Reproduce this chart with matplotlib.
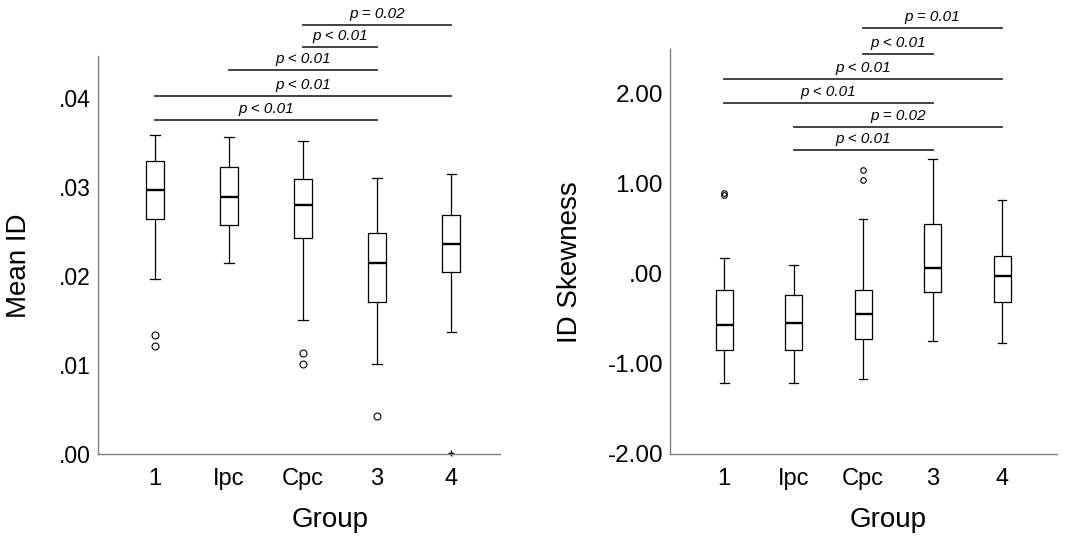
import matplotlib
matplotlib.use('Agg')
import matplotlib.pyplot as plt

plt.rcParams['font.family'] = ['Liberation Sans', 'DejaVu Sans']

groups = ['1', 'Ipc', 'Cpc', '3', '4']

# Mean ID panel
mean_whislo = [0.0197, 0.0215, 0.0151, 0.0101, 0.0137]
mean_q1 = [0.0264, 0.0257, 0.0243, 0.0171, 0.0204]
mean_med = [0.0297, 0.0289, 0.0280, 0.0215, 0.0236]
mean_q3 = [0.0329, 0.0323, 0.0309, 0.0248, 0.0268]
mean_whishi = [0.0358, 0.0356, 0.0352, 0.0310, 0.0315]
mean_outliers = [[0.0134, 0.0121], [], [0.0113, 0.0101], [0.0043], []]
mean_extremes = [[], [], [], [], [0.0001]]
mean_pairs = [(1, 4), (1, 5), (2, 4), (3, 4), (3, 5)]
mean_pair_y = [0.0375, 0.0402, 0.0431, 0.0457, 0.0482]
mean_pair_p = ['p < 0.01', 'p < 0.01', 'p < 0.01', 'p < 0.01', 'p = 0.02']
mean_ticks = [0.0, 0.01, 0.02, 0.03, 0.04]
mean_ticklabels = ['.00', '.01', '.02', '.03', '.04']

# ID Skewness panel
skew_whislo = [-1.213, -1.209, -1.169, -0.747, -0.766]
skew_q1 = [-0.850, -0.843, -0.725, -0.200, -0.311]
skew_med = [-0.569, -0.551, -0.447, 0.060, -0.022]
skew_q3 = [-0.181, -0.233, -0.181, 0.548, 0.200]
skew_whishi = [0.178, 0.097, 0.607, 1.273, 0.818]
skew_outliers = [[0.90, 0.87], [], [1.15, 1.04], [], []]
skew_pairs = [(2, 4), (2, 5), (1, 4), (1, 5), (3, 4), (3, 5)]
skew_pair_y = [1.376, 1.625, 1.895, 2.161, 2.438, 2.723]
skew_pair_p = ['p < 0.01', 'p = 0.02', 'p < 0.01', 'p < 0.01', 'p < 0.01', 'p = 0.01']
skew_ticks = [-2, -1, 0, 1, 2]
skew_ticklabels = ['-2.00', '-1.00', '.00', '1.00', '2.00']


def make_stats(lo, q1, med, q3, hi, fl):
    return [dict(whislo=a, q1=b, med=c, q3=d, whishi=e, fliers=f)
            for a, b, c, d, e, f in zip(lo, q1, med, q3, hi, fl)]


def draw_panel(ax, stats, pairs, pair_y, pair_p, ticks, ticklabels,
               ylabel, spine_top, flier_size, xlim, ylim, ytick_size,
               xlab_pos, ylab_pos):
    pos = list(range(1, len(groups) + 1))
    ax.bxp(stats, positions=pos, widths=0.245, capwidths=0.125,
           boxprops=dict(color='black', lw=0.9),
           whiskerprops=dict(color='black', lw=0.9),
           capprops=dict(color='black', lw=0.9),
           medianprops=dict(color='black', lw=1.7),
           flierprops=dict(marker='o', markerfacecolor='none',
                           markeredgecolor='black', markersize=flier_size,
                           markeredgewidth=0.8))
    for (a, b), y, p in zip(pairs, pair_y, pair_p):
        ax.plot([a, b], [y, y], color='#333333', lw=1.3, clip_on=False)
        ax.annotate(p, xy=((a + b) / 2, y), xytext=(0, 8),
                    textcoords='offset points', ha='center', va='center',
                    style='italic', fontsize=11)
    ax.set_xlim(*xlim)
    ax.set_ylim(*ylim)
    ax.set_xticks(pos)
    ax.set_xticklabels(groups, fontsize=17)
    ax.set_yticks(ticks)
    ax.set_yticklabels(ticklabels, fontsize=ytick_size)
    ax.tick_params(axis='x', length=0, pad=10)
    ax.tick_params(axis='y', length=0, pad=5)
    for s in ['top', 'right']:
        ax.spines[s].set_visible(False)
    ax.spines['left'].set_bounds(ylim[0], spine_top)
    for s in ['left', 'bottom']:
        ax.spines[s].set_color('#808080')
        ax.spines[s].set_linewidth(1.0)
    ax.set_xlabel('Group', fontsize=20)
    ax.xaxis.set_label_coords(*xlab_pos)
    ax.xaxis.label.set_va('center')
    ax.set_ylabel(ylabel, fontsize=20)
    ax.yaxis.set_label_coords(*ylab_pos)
    ax.yaxis.label.set_va('center')


fig = plt.figure(figsize=(10.84, 5.42), dpi=100)
ax1 = fig.add_axes([98 / 1084, 88 / 542, 402 / 1084, 449 / 542])
ax2 = fig.add_axes([670 / 1084, 88 / 542, 387 / 1084, 449 / 542])

mean_stats = make_stats(mean_whislo, mean_q1, mean_med, mean_q3,
                        mean_whishi, mean_outliers)
draw_panel(ax1, mean_stats, mean_pairs, mean_pair_y, mean_pair_p,
           mean_ticks, mean_ticklabels, 'Mean ID', 0.0447, 5,
           (0.23, 5.66), (0, 0.05045), 16.5, (0.577, -0.147), (-0.197, 0.42))
for i, ext in enumerate(mean_extremes):
    if ext:
        ax1.plot([i + 1] * len(ext), ext, ls='none', marker='+',
                 color='black', markersize=5, mew=1.0, clip_on=False)

skew_stats = make_stats(skew_whislo, skew_q1, skew_med, skew_q3,
                        skew_whishi, skew_outliers)
draw_panel(ax2, skew_stats, skew_pairs, skew_pair_y, skew_pair_p,
           skew_ticks, skew_ticklabels, 'ID Skewness', 2.5, 4,
           (0.22, 5.79), (-2, -2 + 449 / 90.1), 17.5, (0.563, -0.147),
           (-0.258, 0.428))

fig.savefig('out.png', dpi=100)
